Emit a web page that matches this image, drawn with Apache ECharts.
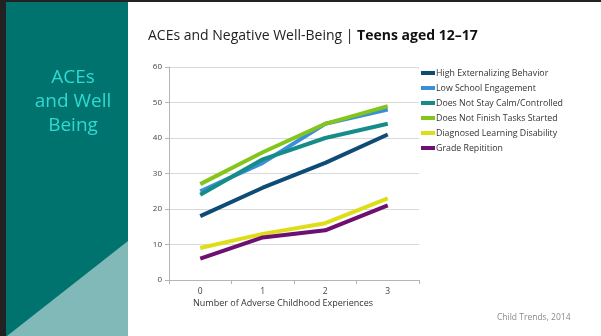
<!DOCTYPE html>
<html>
<head>
<meta charset="utf-8">
<script src="https://cdn.jsdelivr.net/npm/echarts@6/dist/echarts.min.js"></script>
<style>
  html, body { margin: 0; padding: 0; background: #fff; }
  #chart { width: 601px; height: 336px; }
</style>
</head>
<body>
<div id="chart"></div>
<script>
// number of adverse childhood experiences
const categories = ["0", "1", "2", "3"];

const seriesNames = [
  "High Externalizing Behavior",
  "Low School Engagement",
  "Does Not Stay Calm/Controlled",
  "Does Not Finish Tasks Started",
  "Diagnosed Learning Disability",
  "Grade Repitition"
];
const highExternalizing = [18, 26, 33, 41];
const lowEngagement = [25, 33, 44, 48];
const notCalm = [24, 34, 40, 44];
const notFinish = [27, 36, 44, 49];
const learningDisability = [9, 13, 16, 23];
const gradeRepetition = [6, 12, 14, 21];

const colors = ["#0f4c75", "#3a8fd8", "#168c8a", "#84c51c", "#dede18", "#6e0f72"];
const values = [highExternalizing, lowEngagement, notCalm, notFinish, learningDisability, gradeRepetition];

const font = "'Open Sans', Lato, sans-serif";

var chart = echarts.init(document.getElementById("chart"));

var option = {
  animation: false,
  color: colors,
  textStyle: { fontFamily: font },
  grid: { left: 169, right: 182, top: 67, bottom: 56 },
  legend: {
    orient: "vertical",
    left: 416,
    top: 62,
    icon: "rect",
    itemWidth: 14,
    itemHeight: 4,
    itemGap: 3,
    textStyle: { fontSize: 8.8, color: "#333", fontFamily: font, lineHeight: 12, padding: [0, 0, 0, -4] },
    data: seriesNames
  },
  xAxis: {
    type: "category",
    data: categories,
    axisLine: { lineStyle: { color: "#b5b5b5" } },
    axisTick: { show: true, length: 4, lineStyle: { color: "#b5b5b5" } },
    axisLabel: { fontSize: 8.5, color: "#444", margin: 7 }
  },
  yAxis: {
    type: "value",
    min: 0,
    max: 60,
    interval: 10,
    axisLine: { show: true, lineStyle: { color: "#b5b5b5" } },
    axisTick: { show: true, length: 4, lineStyle: { color: "#b5b5b5" } },
    axisLabel: { fontSize: 8, color: "#444", margin: 7 },
    splitLine: { lineStyle: { color: "#d9d9d9" } }
  },
  series: seriesNames.map(function (name, i) {
    return {
      name: name,
      type: "line",
      data: values[i],
      symbol: "none",
      lineStyle: { width: 4, color: colors[i] },
      z: i === 3 ? 3 : 2
    };
  }),
  graphic: [
    { type: "rect", shape: { x: 0, y: 0, width: 601, height: 2 }, style: { fill: "#222" }, silent: true },
    { type: "rect", shape: { x: 0, y: 0, width: 6, height: 336 }, style: { fill: "#222" }, silent: true },
    { type: "rect", shape: { x: 6, y: 2, width: 122, height: 334 }, style: { fill: "#00736f" }, silent: true },
    { type: "polygon", shape: { points: [[7, 336], [128, 241], [128, 336]] }, style: { fill: "#80b9b7" }, silent: true },
    {
      type: "text", x: 73, y: 66,
      style: {
        text: "ACEs\nand Well\nBeing", fill: "#2fd9d2", fontSize: 19,
        fontFamily: font, lineHeight: 24, align: "center"
      },
      silent: true
    },
    {
      type: "text", x: 148, y: 29,
      style: {
        text: "{n|ACEs and Negative Well-Being | }{b|Teens aged 12–17}",
        rich: {
          n: { fontSize: 14, fill: "#222", fontFamily: font },
          b: { fontSize: 14, fill: "#111", fontWeight: "bold", fontFamily: font }
        }
      },
      silent: true
    },
    {
      type: "text", x: 283, y: 299,
      style: { text: "Number of Adverse Childhood Experiences", fill: "#333", fontSize: 9, fontFamily: font, align: "center" },
      silent: true
    },
    {
      type: "text", x: 497, y: 313,
      style: { text: "Child Trends, 2014", fill: "#8a8a8a", fontSize: 8.5, fontFamily: font },
      silent: true
    }
  ]
};

chart.setOption(option);
</script>
</body>
</html>
